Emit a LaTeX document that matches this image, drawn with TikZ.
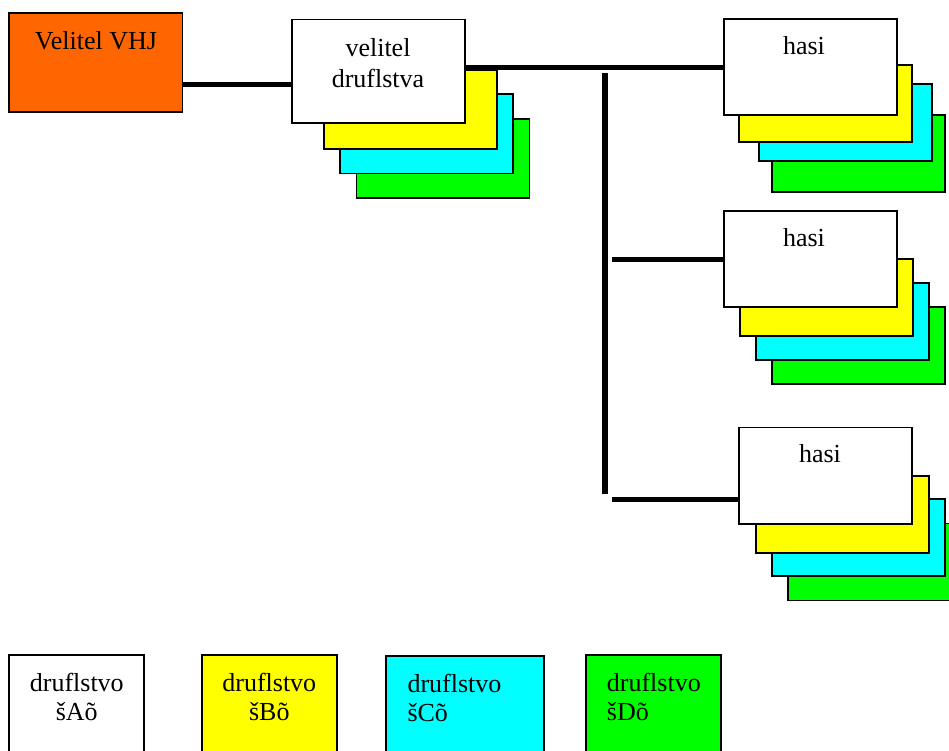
\documentclass[tikz,border=0pt]{standalone}
\usepackage{fontspec}
\setmainfont{Liberation Serif}
\definecolor{vhjorange}{HTML}{FF6600}
\definecolor{cyel}{HTML}{FFFF00}
\definecolor{ccyan}{HTML}{00FFFF}
\definecolor{cgreen}{HTML}{00FF00}
\newcommand{\crd}[6]{\node[card,fill=#6,minimum width=#4pt,minimum height=#5pt,anchor=north west] (#1) at (#2,#3) {};}
\begin{document}
\begin{tikzpicture}[x=1pt,y=-1pt,
  card/.style={draw=black,line width=1.8pt,inner sep=0pt,outer sep=0pt},
  conn/.style={draw=black,line width=5pt},
  lbl/.style={inner sep=0pt,font=\fontsize{26}{31.5}\selectfont},
  lblb/.style={inner sep=0pt,font=\fontsize{26}{29.5}\selectfont}]
\useasboundingbox (0,0) rectangle (949,751);
% top-left commander
\crd{vhj}{9.3}{13.1}{173.2}{99.2}{vhjorange}
\node[lbl,anchor=base] (tvhj) at (96,50) {Velitel VHJ};
% stack 1: velitel druflstva
\crd{v4}{356.4}{118.8}{173}{79.5}{cgreen}
\crd{v3}{340}{94}{173}{79.5}{ccyan}
\crd{v2}{323.7}{70.6}{173}{78.2}{cyel}
\crd{vel}{292}{19.6}{173}{103.7}{white}
\node[lbl,anchor=north,align=center] (tvel) at (378,38) {velitel\\druflstva};
% stack 2
\crd{a4}{772.3}{115}{173}{77}{cgreen}
\crd{a3}{759}{84}{173}{77}{ccyan}
\crd{a2}{739.3}{65}{173}{77}{cyel}
\crd{h1}{724}{19}{173}{96}{white}
\node[lbl,anchor=base] (th1) at (804,54.3) {hasi};
% stack 3
\crd{b4}{772}{307.3}{173}{77}{cgreen}
\crd{b3}{756}{283.3}{173}{77}{ccyan}
\crd{b2}{740}{259.3}{173}{77}{cyel}
\crd{h2}{724}{211}{173}{96}{white}
\node[lbl,anchor=base] (th2) at (804,246) {hasi};
% stack 4
\crd{c4}{788.3}{523.5}{173}{77}{cgreen}
\crd{c3}{772}{499.3}{173}{77}{ccyan}
\crd{c2}{756}{476}{173}{77}{cyel}
\crd{h3}{739.3}{427.5}{173}{96.5}{white}
\node[lbl,anchor=base] (th3) at (820,462.3) {hasi};
% connectors
\coordinate (j1) at (237,84.4);
\draw[conn] (vhj.east |- j1) -- (vel.west |- j1);
\coordinate (bus) at (600,67.5);
\draw[conn] (vel.east |- bus) -- (h1.west |- bus);
\coordinate (vtop) at (605,72.7);
\coordinate (vbot) at (605,494.3);
\draw[conn,line width=5.5pt] (vtop) -- (vbot);
\coordinate (t2) at (612,259.3);
\draw[conn] (t2) -- (h2.west |- t2);
\coordinate (t3) at (612,499.3);
\draw[conn] (t3) -- (h3.west |- t3);
% legend
\crd{la}{9.3}{654.7}{135}{110}{white}
\crd{lb}{201.7}{654.7}{135}{110}{cyel}
\crd{lc}{385.7}{656.3}{158}{110}{ccyan}
\crd{ld}{585.7}{654.7}{135.3}{110}{cgreen}
\node[lblb,anchor=north,align=center] (tla) at (76.8,672.7) {druflstvo\\šAõ};
\node[lblb,anchor=north,align=center] (tlb) at (269.3,672.7) {druflstvo\\šBõ};
\node[lblb,anchor=north west,align=left] (tlc) at (407.3,673.7) {druflstvo\\šCõ};
\node[lblb,anchor=north west,align=left] (tld) at (606.7,672.7) {druflstvo\\šDõ};
\end{tikzpicture}
\end{document}
